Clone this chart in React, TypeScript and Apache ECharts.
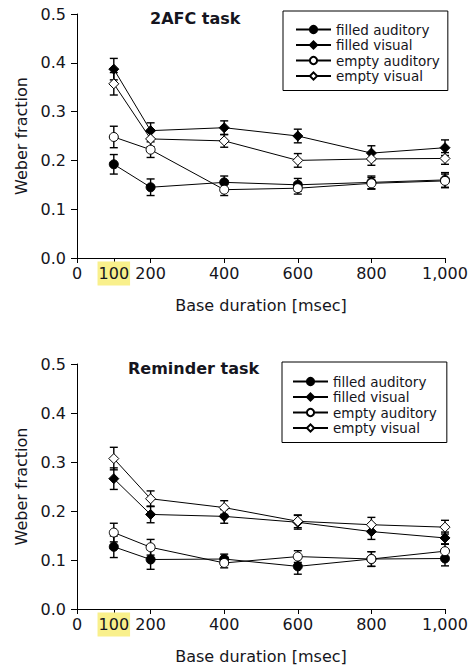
import React, { useEffect, useRef } from "react";
import * as echarts from "echarts";

const durations = [100, 200, 400, 600, 800, 1000];
const xTicks = [0, 100, 200, 400, 600, 800, 1000];
const seriesNames = ["filled auditory", "filled visual", "empty auditory", "empty visual"];

// 2AFC task
const faTop = [0.192, 0.145, 0.155, 0.15, 0.155, 0.16];
const faTopErr = [0.02, 0.017, 0.013, 0.013, 0.013, 0.015];
const fvTop = [0.387, 0.261, 0.267, 0.25, 0.215, 0.226];
const fvTopErr = [0.022, 0.016, 0.014, 0.014, 0.015, 0.016];
const eaTop = [0.248, 0.222, 0.14, 0.143, 0.153, 0.158];
const eaTopErr = [0.022, 0.016, 0.012, 0.012, 0.012, 0.014];
const evTop = [0.357, 0.244, 0.24, 0.2, 0.203, 0.204];
const evTopErr = [0.023, 0.016, 0.013, 0.014, 0.013, 0.012];

// Reminder task
const faBot = [0.127, 0.101, 0.102, 0.087, 0.102, 0.103];
const faBotErr = [0.022, 0.02, 0.01, 0.016, 0.015, 0.015];
const fvBot = [0.266, 0.193, 0.189, 0.177, 0.158, 0.145];
const fvBotErr = [0.022, 0.017, 0.014, 0.014, 0.016, 0.012];
const eaBot = [0.156, 0.126, 0.094, 0.107, 0.102, 0.118];
const eaBotErr = [0.019, 0.016, 0.01, 0.012, 0.015, 0.014];
const evBot = [0.307, 0.225, 0.207, 0.179, 0.172, 0.167];
const evBotErr = [0.023, 0.016, 0.014, 0.013, 0.015, 0.014];

const FONT = "DejaVu Sans, Liberation Sans, Arial, sans-serif";
const TXT = "#151520";

const symbolDefs = [
  { symbol: "circle", fill: "#000" },
  { symbol: "diamond", fill: "#000" },
  { symbol: "circle", fill: "#fff" },
  { symbol: "diamond", fill: "#fff" },
];

function makeAxes(gridIndex: number) {
  const labelRich = {
    fontFamily: FONT,
    fontSize: 16,
    color: TXT,
    lineHeight: 17,
    padding: [4, 1, 4, 1],
  };
  const xAxis = {
    type: "value",
    gridIndex,
    min: 0,
    max: 1000,
    interval: 100,
    name: "Base duration [msec]",
    nameLocation: "middle",
    nameGap: 39,
    nameTextStyle: { fontFamily: FONT, fontSize: 16, color: TXT },
    axisLine: { show: true, lineStyle: { color: "#000", width: 1 } },
    axisTick: { show: true, length: 5, customValues: xTicks, lineStyle: { color: "#000" } },
    splitLine: { show: false },
    axisLabel: {
      customValues: xTicks,
      margin: 7,
      fontFamily: FONT,
      fontSize: 16,
      color: TXT,
      formatter: (v: number) =>
        v === 100 ? "{hl|100}" : "{n|" + (v >= 1000 ? "1,000" : String(v)) + "}",
      rich: {
        n: { ...labelRich },
        hl: { ...labelRich, backgroundColor: "#f9f08c" },
      },
    },
  };
  const yAxis = {
    type: "value",
    gridIndex,
    min: 0,
    max: 0.5,
    interval: 0.1,
    name: "Weber fraction",
    nameLocation: "middle",
    nameGap: 47,
    nameTextStyle: { fontFamily: FONT, fontSize: 16, color: TXT },
    axisLine: { show: true, lineStyle: { color: "#000", width: 1 } },
    axisTick: { show: true, length: 6, lineStyle: { color: "#000" } },
    splitLine: { show: false },
    axisLabel: {
      margin: 11,
      fontFamily: FONT,
      fontSize: 16,
      color: TXT,
      formatter: (v: number) => v.toFixed(1),
    },
  };
  return { xAxis, yAxis };
}

function lineSeries(idx: number, gridIndex: number, values: number[]) {
  const def = symbolDefs[idx];
  return {
    type: "line",
    name: seriesNames[idx],
    xAxisIndex: gridIndex,
    yAxisIndex: gridIndex,
    data: durations.map((d, i) => [d, values[i]]),
    symbol: def.symbol,
    symbolSize: def.symbol === "diamond" ? 10 : 9,
    showSymbol: true,
    lineStyle: { color: "#000", width: 1 },
    itemStyle: { color: def.fill, borderColor: "#000", borderWidth: 1 },
    z: 3,
  };
}

function errSeries(gridIndex: number, values: number[], errs: number[]) {
  return {
    type: "custom",
    xAxisIndex: gridIndex,
    yAxisIndex: gridIndex,
    silent: true,
    z: 2,
    data: durations.map((d, i) => [d, values[i] - errs[i], values[i] + errs[i]]),
    renderItem: (params: any, api: any) => {
      const x = api.value(0);
      const lo = api.coord([x, api.value(1)]);
      const hi = api.coord([x, api.value(2)]);
      const w = 4;
      const style = { stroke: "#000", lineWidth: 1.4 };
      return {
        type: "group",
        children: [
          { type: "line", shape: { x1: lo[0], y1: lo[1], x2: hi[0], y2: hi[1] }, style },
          { type: "line", shape: { x1: hi[0] - w, y1: hi[1], x2: hi[0] + w, y2: hi[1] }, style },
          { type: "line", shape: { x1: lo[0] - w, y1: lo[1], x2: lo[0] + w, y2: lo[1] }, style },
        ],
      };
    },
  };
}

export default function App() {
  const ref = useRef<HTMLDivElement>(null);
  useEffect(() => {
    if (!ref.current) return;
    const chart = echarts.init(ref.current, undefined, { renderer: "svg" });
    const a0 = makeAxes(0);
    const a1 = makeAxes(1);
    const topSets = [
      [faTop, faTopErr],
      [fvTop, fvTopErr],
      [eaTop, eaTopErr],
      [evTop, evTopErr],
    ];
    const botSets = [
      [faBot, faBotErr],
      [fvBot, fvBotErr],
      [eaBot, eaBotErr],
      [evBot, evBotErr],
    ];
    const series: any[] = [];
    topSets.forEach(([v, e]) => series.push(errSeries(0, v, e)));
    botSets.forEach(([v, e]) => series.push(errSeries(1, v, e)));
    topSets.forEach(([v], i) => series.push(lineSeries(i, 0, v)));
    botSets.forEach(([v], i) => series.push(lineSeries(i, 1, v)));

    const legendBase = {
      orient: "vertical",
      data: seriesNames,
      itemWidth: 35,
      itemHeight: 9,
      itemGap: 0.5,
      borderColor: "#000",
      borderWidth: 1,
      borderRadius: 0,
      backgroundColor: "#fff",
      textStyle: { fontFamily: FONT, fontSize: 13.5, color: TXT, lineHeight: 15 },
      selectedMode: false,
    };

    chart.setOption({
      animation: false,
      backgroundColor: "#fff",
      title: [
        {
          text: "2AFC task",
          left: 150,
          top: 10,
          padding: 0,
          textStyle: { fontFamily: FONT, fontSize: 16, fontWeight: "bold", color: TXT },
        },
        {
          text: "Reminder task",
          left: 128,
          top: 360,
          padding: 0,
          textStyle: { fontFamily: FONT, fontSize: 16, fontWeight: "bold", color: TXT },
        },
      ],
      legend: [
        { ...legendBase, left: 283, top: 11, padding: [11, 8, 7, 12] },
        { ...legendBase, left: 282, top: 362, padding: [12, 10, 7, 10] },
      ],
      grid: [
        { left: 77, right: 23, top: 14, height: 244, outerBoundsMode: "none" },
        { left: 77, right: 23, top: 364, height: 245, outerBoundsMode: "none" },
      ],
      xAxis: [a0.xAxis, a1.xAxis],
      yAxis: [a0.yAxis, a1.yAxis],
      series,
    } as any);
    return () => chart.dispose();
  }, []);
  return (
    <div
      ref={ref}
      style={{ position: "fixed", left: 0, top: 0, width: 468, height: 666, background: "#fff" }}
    />
  );
}
